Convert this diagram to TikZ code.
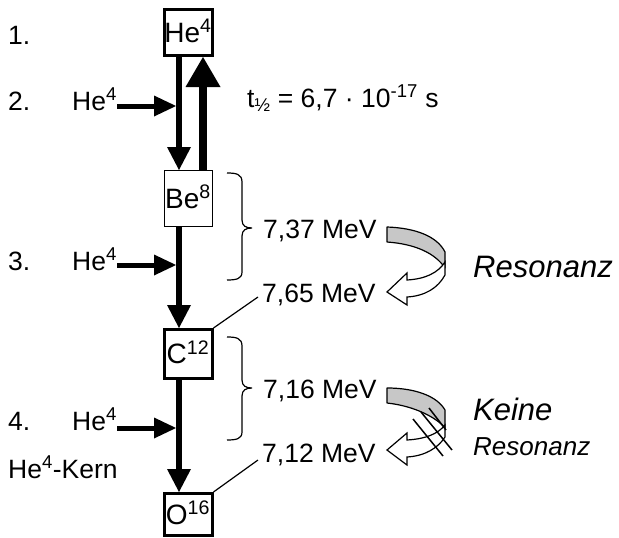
\documentclass[tikz,border=0pt]{standalone}
\usepackage{fontspec}
\setmainfont{Liberation Sans}
\usetikzlibrary{arrows.meta}
\newcommand{\mybrace}[4]{% x, top, mid, bottom
  \draw[bracestyle] (#1,#2) .. controls (#1+9,#2) and (#1+15,#2+1) .. (#1+15,#2+9)
    -- (#1+15,#3-8) .. controls (#1+15,#3-2) and (#1+19,#3) .. (#1+25,#3)
    .. controls (#1+19,#3) and (#1+15,#3+2) .. (#1+15,#3+8)
    -- (#1+15,#4-8) .. controls (#1+15,#4-1) and (#1+9,#4) .. (#1,#4);}
\begin{document}
\begin{tikzpicture}[x=1pt,y=-1pt,
  every node/.style={font=\fontsize{26.5}{30}\selectfont, inner sep=0pt},
  txt/.style={anchor=base west},
  nuc/.style={draw, line width=3pt, minimum width=48pt, text height=19pt, text depth=0pt,
    font=\fontsize{28}{30}\selectfont},
  dn/.style={line width=6pt, -{Triangle[width=24pt,length=23pt,line width=0pt]}},
  upa/.style={line width=8pt, -{Triangle[width=35pt,length=30pt,line width=0pt]}},
  inc/.style={line width=5pt, -{Triangle[width=21pt,length=22pt,line width=0pt]}},
  bracestyle/.style={line width=1.2pt},
  lead/.style={line width=1.2pt},
  band/.style={draw, line width=1.2pt, fill=black!22, line join=round},
  warrow/.style={draw, line width=1.2pt, fill=white, line join=miter},
  big/.style={font=\fontsize{31}{34}\selectfont\itshape},
  small/.style={font=\fontsize{26}{30}\selectfont\itshape}
]
\useasboundingbox (0,0) rectangle (619,538);

% nuclei
\node[nuc, minimum height=46pt] (he) at (188,32.5) {He\textsuperscript{4}};
\node[nuc, line width=1pt, minimum height=56pt] (be) at (188,198.5) {Be\textsuperscript{8}};
\node[nuc, minimum height=49pt] (c) at (188,354) {C\textsuperscript{12}};
\node[nuc, minimum height=42pt] (o) at (188,514.5) {O\textsuperscript{16}};

% step labels
\node[txt] (n1) at (8,45) {1.};
\node[txt] (n2) at (8,110) {2.};
\node[txt] (n3) at (8,270) {3.};
\node[txt] (n4) at (8,430) {4.};
\node[txt] (h2) at (72,110) {He\textsuperscript{4}};
\node[txt] (h3) at (72,270) {He\textsuperscript{4}};
\node[txt] (h4) at (72,430) {He\textsuperscript{4}};
\node[txt] (kern) at (8,478) {He\textsuperscript{4}-Kern};

% junctions on the chain
\coordinate (j2) at (176,106);
\coordinate (j3) at (176,265);
\coordinate (j4) at (176,428);

% main chain
\draw[dn] ([xshift=-9pt]he.south) -- ([xshift=-9pt]be.north);
\draw[upa] ([xshift=15pt]be.north) -- ([xshift=15pt]he.south);
\draw[dn] ([xshift=-9pt]be.south) -- ([xshift=-9pt]c.north);
\draw[dn] ([xshift=-9pt]c.south) -- ([xshift=-9pt]o.north);

% incoming He4
\draw[inc] (h2.east |- j2) -- (j2);
\draw[inc] (h3.east |- j3) -- (j3);
\draw[inc] (h4.east |- j4) -- (j4);

% half life
\node[txt] (thalf) at (247,107) {t\textsubscript{½} = 6,7 · 10\textsuperscript{-17} s};

% braces and energies
\mybrace{227}{173}{228}{280}
\mybrace{227}{337}{388}{440}
\node[txt] (e1) at (263,238) {7,37 MeV};
\node[txt] (e2) at (262,302) {7,65 MeV};
\node[txt] (e3) at (263,398) {7,16 MeV};
\node[txt] (e4) at (262,462) {7,12 MeV};
\coordinate (l1) at (258,297);
\coordinate (l2) at (258,460);
\draw[lead] (c.north east) -- (l1);
\draw[lead] (o.north east) -- (l2);

% resonance arrow
\path[band] (387,227) .. controls (415,228) and (437,236) .. (445,252) -- (445,268)
  .. controls (435,253) and (415,244) .. (387,242) -- cycle;
\path[warrow] (445,262) -- (445,275) .. controls (438,288) and (425,296) .. (407,297)
  -- (407,305) -- (387,292) -- (407,273) -- (407,280)
  .. controls (425,279) and (438,273) .. (445,262) -- cycle;
\node[txt, big] (res) at (473,277) {Resonanz};

% no-resonance arrow
\path[band] (387,388) .. controls (415,388) and (437,396) .. (445,410) -- (445,428)
  .. controls (437,418) and (415,406) .. (387,403) -- cycle;
\path[warrow] (445,425) -- (445,437) .. controls (438,448) and (425,456) .. (407,457)
  -- (407,465) -- (387,450) -- (407,433) -- (407,440)
  .. controls (425,439) and (438,434) .. (445,425) -- cycle;
\draw[line width=1.5pt] (413,419) -- (443,456);
\draw[line width=1.5pt] (421,412) -- (452,450);
\draw[line width=1.5pt] (429,408) -- (446,430);
\node[txt, big] (keine) at (473,420) {Keine};
\node[txt, small] (res2) at (473,455) {Resonanz};
\end{tikzpicture}
\end{document}
